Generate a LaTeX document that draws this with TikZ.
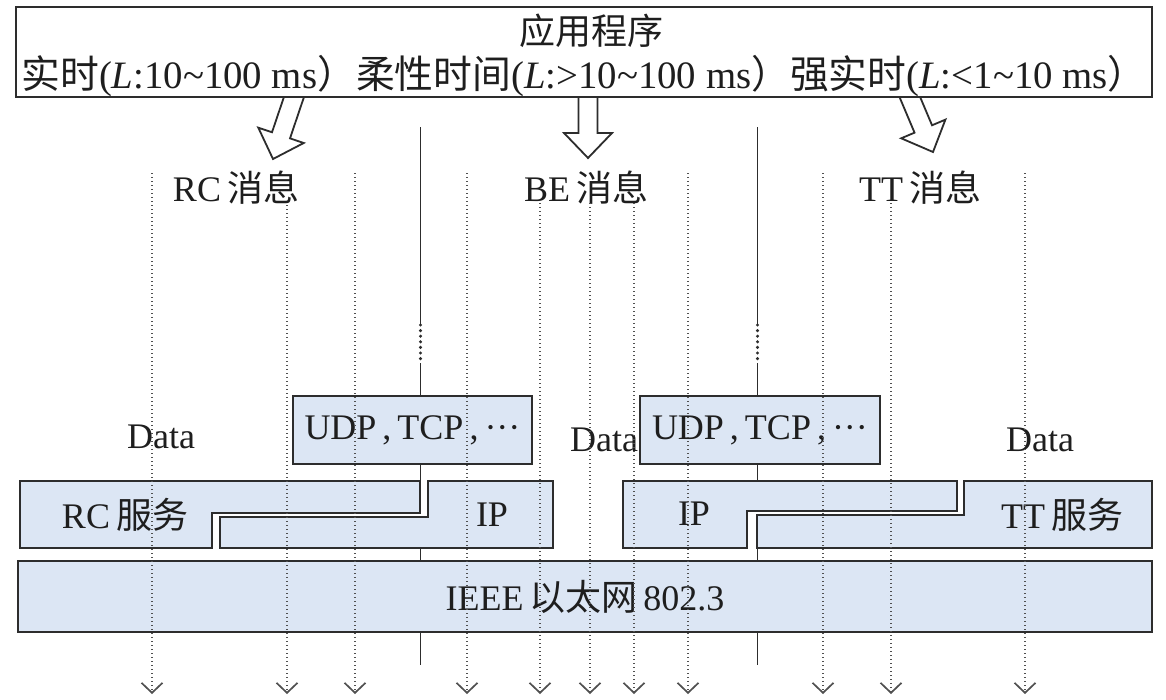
\documentclass[tikz,border=0pt]{standalone}
\usepackage{fontspec}
\setmainfont{Liberation Serif}
\newfontfamily\cjk{Noto Sans CJK SC}
\usetikzlibrary{arrows.meta,calc}

\definecolor{boxfill}{RGB}{220,230,244}
\definecolor{edge}{RGB}{45,45,45}
\definecolor{dotc}{RGB}{80,80,80}
\definecolor{txt}{RGB}{30,30,30}

\newcommand\blockarr[2]{%
  \coordinate (hb) at ($(#2)!25pt!(#1)$);
  \draw[blockarrow]
    ($(#1)!9.5pt!90:(#2)$) -- ($(hb)!9.5pt!90:(#2)$) -- ($(hb)!24pt!90:(#2)$) --
    (#2) --
    ($(hb)!24pt!-90:(#2)$) -- ($(hb)!9.5pt!-90:(#2)$) -- ($(#1)!9.5pt!-90:(#2)$) -- cycle;
}

\begin{document}
\begin{tikzpicture}[x=1pt,y=-1pt,
  every node/.style={text=txt, inner sep=0pt},
  lbl/.style={font=\fontsize{36}{40}\selectfont},
  layer/.style={draw=edge, fill=boxfill, line width=2pt},
  vline/.style={draw=edge, line width=1.8pt},
  vdots/.style={draw=edge, line width=3.4pt, line cap=round, dash pattern=on 0pt off 5.6pt},
  dotarrow/.style={draw=dotc, line width=1.6pt, dash pattern=on 1.4pt off 2.6pt,
    -{Straight Barb[length=10pt,width=21pt,line width=1.7pt]}},
  blockarrow/.style={draw=edge, fill=white, line width=1.8pt, line join=miter},
]
\useasboundingbox[fill=white] (0,0) rectangle (1166,699);

% ---- solid vertical separator lines ----
\foreach \n/\x in {a/420.5, b/757.5} {
  \coordinate (\n0) at (\x,127);
  \coordinate (\n1) at (\x,325);
  \coordinate (\n2) at (\x,363);
  \coordinate (\n3) at (\x,396);
  \coordinate (\n4) at (\x,464);
  \coordinate (\n5) at (\x,481);
  \coordinate (\n6) at (\x,548);
  \coordinate (\n7) at (\x,561);
  \coordinate (\n8) at (\x,632);
  \coordinate (\n9) at (\x,665);
  \draw[vline] (\n0) -- (\n1);
  \draw[vdots] (\n1) -- (\n2);
  \draw[vline] (\n2) -- (\n3);
  \draw[vline] (\n4) -- (\n5);
  \draw[vline] (\n6) -- (\n7);
  \draw[vline] (\n8) -- (\n9);
}

% ---- block arrows ----
\coordinate (rcs) at (297,88);  \coordinate (rct) at (273,159);
\coordinate (bes) at (588,88);  \coordinate (bet) at (588,158);
\coordinate (tts) at (906,88);  \coordinate (ttt) at (933,152);
\blockarr{rcs}{rct}
\blockarr{bes}{bet}
\blockarr{tts}{ttt}

% ---- application box ----
\draw[draw=edge, fill=white, line width=2pt] (16,7) rectangle (1152,97);
\node[lbl] (title) at (591,31) {\cjk 应用程序};
\node (line2) at (584,76) {\resizebox{1125pt}{!}{\fontsize{36}{40}\selectfont
  {\cjk 实时}(\textit{L}:10\textasciitilde100 ms{\cjk ）}{\cjk 柔性时间}(\textit{L}:>10\textasciitilde100 ms{\cjk ）}{\cjk 强实时}(\textit{L}:<1\textasciitilde10 ms{\cjk ）}}};

% ---- message labels ----
\node[lbl] (rcmsg) at (236,188) {RC\,{\cjk 消息}};
\node[lbl] (bemsg) at (586,188) {BE\,{\cjk 消息}};
\node[lbl] (ttmsg) at (920,188) {TT\,{\cjk 消息}};

% ---- protocol boxes ----
\node[layer, lbl, minimum width=239pt, minimum height=68pt] (udp1) at (412.5,430) {UDP\,,\,TCP\,,\,\textperiodcentered\textperiodcentered\textperiodcentered};
\node[layer, lbl, minimum width=240pt, minimum height=68pt] (udp2) at (760,430) {UDP\,,\,TCP\,,\,\textperiodcentered\textperiodcentered\textperiodcentered};

\node[lbl] (data1) at (161,437) {Data};
\node[lbl] (data2) at (604,440) {Data};
\node[lbl] (data3) at (1040,440) {Data};

\draw[layer] (20,481) -- (420,481) -- (420,513) -- (212,513) -- (212,548) -- (20,548) -- cycle;
\draw[layer] (428,481) -- (553,481) -- (553,548) -- (220,548) -- (220,517) -- (428,517) -- cycle;
\draw[layer] (623,481) -- (957,481) -- (957,511) -- (747,511) -- (747,548) -- (623,548) -- cycle;
\draw[layer] (964,481) -- (1152,481) -- (1152,548) -- (757,548) -- (757,515) -- (964,515) -- cycle;

\node[lbl] (rcsvc) at (125,515) {RC\,{\cjk 服务}};
\node[lbl] (ip1) at (492,515) {IP};
\node[lbl] (ip2) at (694,514) {IP};
\node[lbl] (ttsvc) at (1062,515) {TT\,{\cjk 服务}};

\node[layer, lbl, minimum width=1134pt, minimum height=71pt] (eth) at (585,596.5) {IEEE\,{\cjk 以太网}\,802.3};

% ---- dotted data-flow arrows ----
\foreach \i/\x/\y in {1/152/173, 2/287/205, 3/355/173, 4/467/173, 5/540/203, 6/590/203,
                      7/634/203, 8/688/173, 9/823/173, 10/891/203, 11/1025/173} {
  \coordinate (dt\i) at (\x,\y);
  \coordinate (db\i) at (\x,694);
  \draw[dotarrow] (dt\i) -- (db\i);
}
\end{tikzpicture}
\end{document}
